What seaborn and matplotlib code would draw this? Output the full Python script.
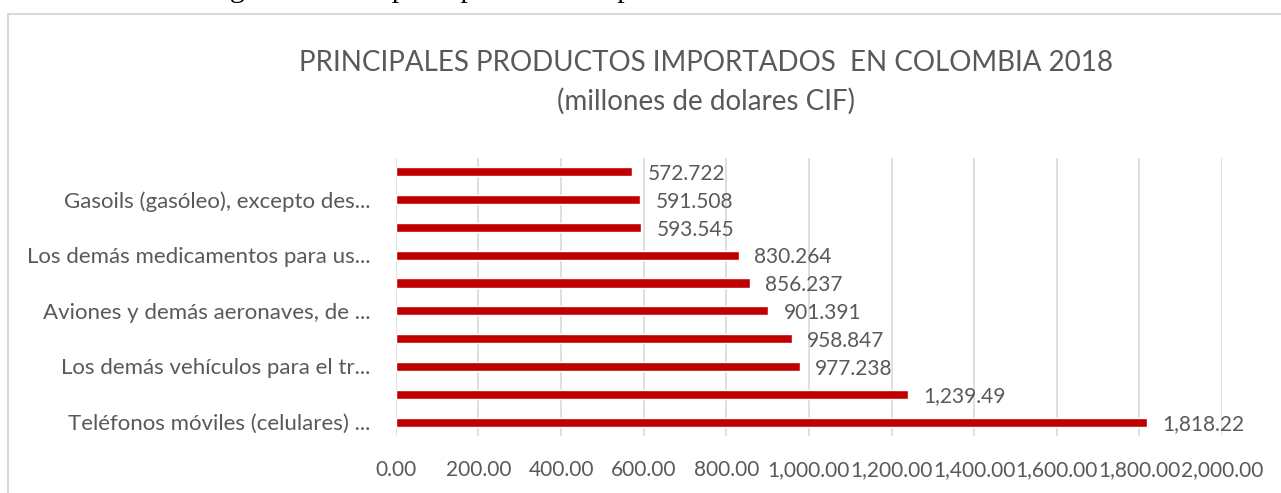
import matplotlib
matplotlib.use("Agg")
from matplotlib import pyplot as plt
from matplotlib.patches import Rectangle
import seaborn as sns
import pandas as pd
import numpy as np

# bars from top to bottom
productos = ["p01", "p02", "p03", "p04", "p05", "p06", "p07", "p08", "p09", "p10"]
etiquetas = ["",
             "Gasoils (gasóleo), excepto des...",
             "",
             "Los demás medicamentos para us...",
             "",
             "Aviones y demás aeronaves, de ...",
             "",
             "Los demás vehículos para el tr...",
             "",
             "Teléfonos móviles (celulares) ..."]
valores = [572.722, 591.508, 593.545, 830.264, 856.237,
           901.391, 958.847, 977.238, 1239.49, 1818.22]
x_ticks = [0, 200, 400, 600, 800, 1000, 1200, 1400, 1600, 1800, 2000]

titulo = "PRINCIPALES PRODUCTOS IMPORTADOS  EN COLOMBIA 2018\n(millones de dolares CIF)"
leyenda_figura = "Figura 1. Principales productos importados en Colombia año 2018"

gris = "#595959"
rojo = "#C00000"

sns.set_theme(style="white")
plt.rcParams['font.family'] = ['Lato', 'DejaVu Sans']

df = pd.DataFrame({"producto": productos, "valor": valores})

fig = plt.figure(figsize=(12.81, 4.93), dpi=100)
ax = fig.add_axes([0.309, 0.1156, 0.645, 0.564])

sns.barplot(data=df, x="valor", y="producto", order=productos, orient="h",
            color=rojo, saturation=1, width=0.33, ax=ax)

# value labels
for i, v in enumerate(valores):
    txt = f"{v:.3f}" if v < 1000 else f"{v:,.2f}"
    ax.annotate(txt, xy=(v, i), xytext=(11, -1.5), textcoords="offset points",
                va="center", ha="left", fontsize=15, color=gris)

ax.set_xlim(0, 2000)
ax.set_xticks(x_ticks)
ax.set_xticklabels([f"{t:,.2f}" for t in x_ticks], fontsize=15, color=gris)
ax.set_yticklabels(etiquetas, fontsize=16, color=gris)
ax.tick_params(axis="x", length=0, pad=17)
ax.tick_params(axis="y", length=0, pad=18)
ax.set_xlabel("")
ax.set_ylabel("")
ax.grid(axis="x", color="#d9d9d9", linewidth=1.2)
ax.set_axisbelow(True)
for s in ax.spines.values():
    s.set_visible(False)

fig.text(0.551, 0.833, titulo, ha="center", va="center", fontsize=20,
         color=gris, linespacing=1.55)

# caption above the chart, mostly cut off at the top edge
fig.text(205 / 1281, 1 + 3 / 493, leyenda_figura, ha="left", va="baseline",
         fontsize=21.5, family="Liberation Serif", color="black")

# chart border
fig.patches.append(Rectangle((8 / 1281, -0.1), 1.2, 1 - 14 / 493 + 0.1,
                             transform=fig.transFigure, fill=False,
                             edgecolor="#d9d9d9", linewidth=1.5))

fig.savefig("out.png", dpi=100, facecolor="white")
